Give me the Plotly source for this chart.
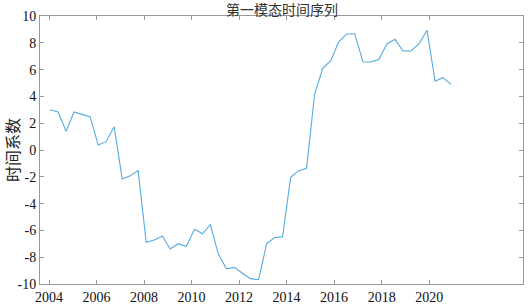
import plotly.graph_objects as go

# time axis (decimal years) and first-mode time coefficients
years = [2004.04, 2004.38, 2004.72, 2005.05, 2005.39, 2005.73, 2006.07, 2006.40,
         2006.74, 2007.08, 2007.42, 2007.75, 2008.09, 2008.43, 2008.77, 2009.10,
         2009.44, 2009.78, 2010.12, 2010.46, 2010.79, 2011.13, 2011.47, 2011.81,
         2012.14, 2012.48, 2012.82, 2013.16, 2013.49, 2013.83, 2014.17, 2014.51,
         2014.84, 2015.18, 2015.52, 2015.86, 2016.19, 2016.53, 2016.87, 2017.21,
         2017.54, 2017.88, 2018.22, 2018.56, 2018.90, 2019.23, 2019.57, 2019.91,
         2020.25, 2020.58, 2020.92]
coef = [3.00, 2.84, 1.39, 2.84, 2.66, 2.49, 0.37, 0.62, 1.74, -2.16,
        -1.93, -1.53, -6.89, -6.72, -6.42, -7.39, -6.99, -7.19, -5.92, -6.25,
        -5.56, -7.79, -8.86, -8.76, -9.20, -9.60, -9.68, -7.01, -6.54, -6.47,
        -2.04, -1.54, -1.37, 4.18, 6.09, 6.67, 8.08, 8.66, 8.66, 6.59,
        6.57, 6.75, 7.91, 8.26, 7.39, 7.39, 7.91, 8.93, 5.13, 5.40, 4.90]
xticks = [2004, 2006, 2008, 2010, 2012, 2014, 2016, 2018, 2020]
yticks = [-10, -8, -6, -4, -2, 0, 2, 4, 6, 8, 10]

fig = go.Figure()
fig.add_trace(go.Scatter(x=years, y=coef, mode="lines",
                         line=dict(color="#55aae2", width=1.1)))

axis_common = dict(showgrid=False, zeroline=False, showline=True, mirror="ticks",
                   linecolor="#999999", linewidth=1, ticks="inside", ticklen=4,
                   tickcolor="#999999", tickwidth=1, automargin=False,
                   tickfont=dict(family="Liberation Serif", size=14, color="#111111"))

fig.update_layout(
    width=529, height=305,
    margin=dict(l=40, r=6, t=16, b=21),
    paper_bgcolor="white", plot_bgcolor="white",
    showlegend=False,
    title=dict(text="第一模态时间序列", x=0.533, xanchor="center",
               y=0.968, yanchor="middle", automargin=False,
               font=dict(family="Noto Sans CJK SC", size=14, color="#333333")),
    xaxis=dict(range=[2003.62, 2023.95], tickmode="array", tickvals=xticks,
               ticktext=[str(v) for v in xticks], **axis_common),
    yaxis=dict(range=[-10, 10], tickmode="array", tickvals=yticks,
               ticktext=[str(v) for v in yticks],
               title=dict(text="时间系数", standoff=2,
                          font=dict(family="Noto Sans CJK SC", size=16, color="#222222")),
               **axis_common),
)

fig.write_html("out.html", config={"displayModeBar": False},
               post_script="document.body.style.margin='0';document.body.style.overflow='hidden';")
